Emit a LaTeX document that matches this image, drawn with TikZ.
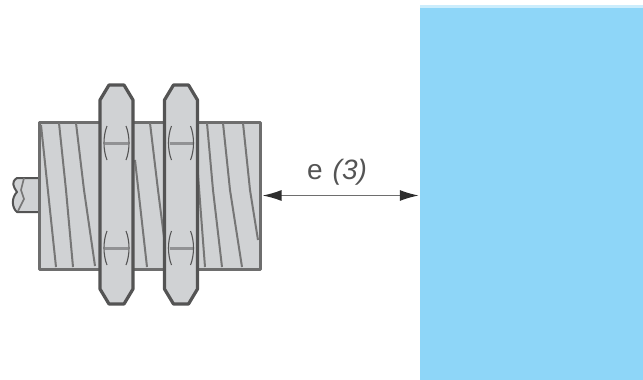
\documentclass[tikz,border=0pt]{standalone}
\usepackage{fontspec}
\setmainfont{Liberation Sans}
\usetikzlibrary{arrows.meta}
\definecolor{metal}{RGB}{208,210,212}
\definecolor{edge}{RGB}{84,84,84}
\definecolor{threadc}{RGB}{118,118,118}
\definecolor{nutbar}{RGB}{145,146,148}
\definecolor{tipc}{RGB}{45,45,45}
\definecolor{sky}{RGB}{142,214,248}
\tikzset{
  x=1pt,y=-1pt,
  outline/.style={draw=edge,line width=2.6pt,fill=metal,line join=round},
  threadline/.style={draw=threadc,line width=2pt},
  nutarc/.style={draw=edge,line width=1.1pt},
  nutbarline/.style={draw=nutbar,line width=3pt},
  target/.style={fill=sky,draw=none,inner sep=0pt,minimum width=223pt,minimum height=372pt},
  sensorbody/.style={outline,draw=edge!85!white,line width=3pt,inner sep=0pt,minimum width=221pt,minimum height=147pt},
  gap/.style={draw=edge!85!white,line width=1.4pt,{Latex[length=19pt,width=11pt,color=tipc]}-{Latex[length=19pt,width=11pt,color=tipc]},shorten <=1pt,shorten >=1pt},
  gaplabel/.style={text=edge,font=\fontsize{28}{32}\selectfont,inner sep=0pt}
}
\begin{document}
\begin{tikzpicture}
\useasboundingbox (0,0) rectangle (643,380);
\fill[sky!45!white] (420,5) rectangle (643,9);
\node[target] (wall) at (531.5,194) {};
% stub
\draw[outline,line width=2pt] (39,178) -- (17,178) .. controls (11,182) and (13,186) .. (17,192) .. controls (11,198) and (12,208) .. (17,212) -- (39,212);
\draw[threadline,line width=1.6pt] (24,178) -- (21,190) -- (24,199) -- (18,211);
% body
\node[sensorbody] (body) at (149.5,195.5) {};
% threads
\foreach \a/\b/\c/\d in {
 41/125/56/267, 59/123/66/190, 66/190/73/267, 76/123/84/190, 84/190/95/266,
 135/160/147/267, 150/123/158/190, 158/190/165/245,
 198/175/205/267, 207/123/213/190, 213/190/222/267, 223/123/230/190, 230/190/242/267, 243/123/250/190, 250/190/258/240}
 \draw[threadline] (\a,\b) -- (\c,\d);
% nuts
\foreach \x in {100,164.5}{
 \draw[outline,line width=3.2pt] (\x,112) -- (\x,100) -- (\x+3,95) -- (\x+9,85) -- (\x+24,85) -- (\x+30,95) -- (\x+33,100)
   -- (\x+33,289) -- (\x+30,294) -- (\x+24,304) -- (\x+9,304) -- (\x+3,294) -- (\x,289) -- cycle;
 \draw[nutbarline] (\x+5,143) -- (\x+28,143);
 \draw[nutbarline] (\x+5,248) -- (\x+28,248);
 \draw[nutarc] (\x+7,126) .. controls (\x+3,136) and (\x+3,150) .. (\x+7,160);
 \draw[nutarc] (\x+26,126) .. controls (\x+30,136) and (\x+30,150) .. (\x+26,160);
 \draw[nutarc] (\x+7,231) .. controls (\x+3,241) and (\x+3,255) .. (\x+7,265);
 \draw[nutarc] (\x+26,231) .. controls (\x+30,241) and (\x+30,255) .. (\x+26,265);
}
% dimension
\draw[gap] (body.east) -- (body.east -| wall.west);
\node[gaplabel] (label) at (337,172) {e\hspace{10pt}\textit{(3)}};
\end{tikzpicture}
\end{document}
